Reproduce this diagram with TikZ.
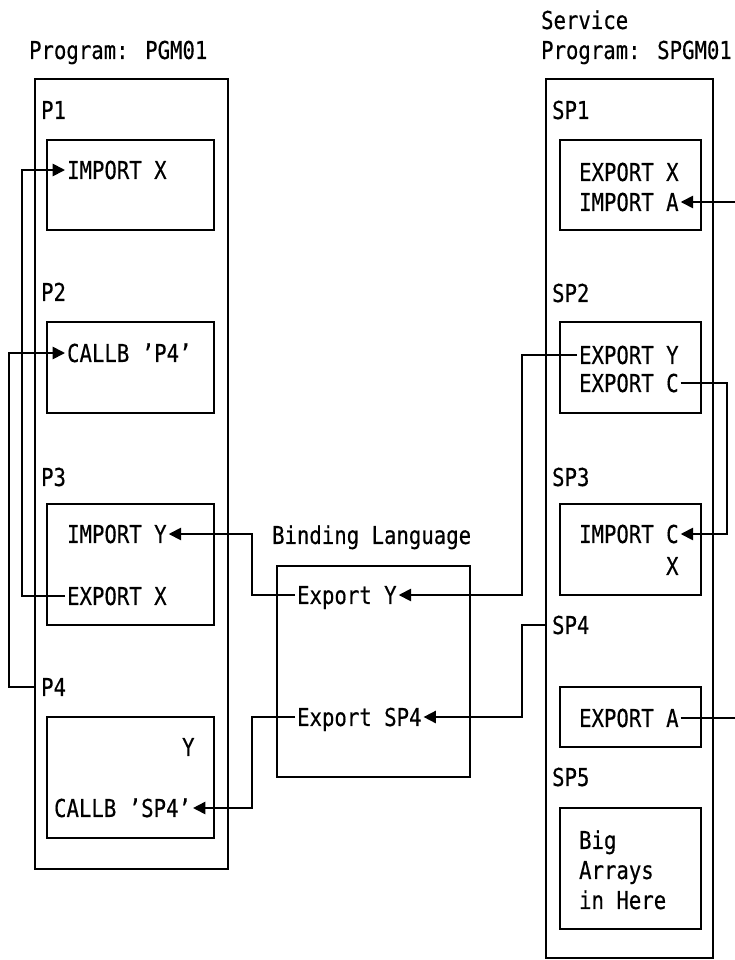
\documentclass[tikz,border=0pt]{standalone}
\usepackage{fontspec}
\usetikzlibrary{arrows.meta, fit}
\newfontfamily\diagfont[FakeStretch=0.84, FakeBold=0.4]{DejaVu Sans Mono}
\tikzset{
    txt/.style={anchor=west, inner xsep=1pt, inner ysep=0pt, text height=10.2pt, text depth=0pt,
        font=\diagfont\fontsize{14pt}{17pt}\selectfont},
    frame/.style={draw, line width=1pt, inner sep=0pt},
    conn/.style={line width=1pt, -{Triangle[length=7pt, width=7pt]}},
    wire/.style={line width=1pt}
}

\begin{document}
\begin{tikzpicture}[x=0.02cm, y=-0.02cm]
    \useasboundingbox (0,0) rectangle (734,960);

    \coordinate (lx1) at (22,0);
    \coordinate (lx2) at (9,0);
    \coordinate (mx) at (252,0);
    \coordinate (rx) at (522,0);
    \coordinate (ex) at (727,0);
    \coordinate (far) at (760,0);

    % program PGM01
    \node[txt] (pgmlbl) at (27,50) {Program: PGM01};
    \node[frame, fit={(35,79) (228,869)}] (pgm) {};

    \foreach \n/\y in {1/110, 2/292, 3/477, 4/687} {
        \node[txt] (p\n) at (39,\y) {P\n};
    }
    \foreach \n/\t/\b in {1/140/230, 2/322/413, 3/504/625, 4/717/838} {
        \node[frame, fit={(47,\t) (214,\b)}] (box\n) {};
    }

    \node[txt] (impx) at (65,170) {IMPORT X};
    \node[txt] (callp4) at (65,353) {CALLB ’P4’};
    \node[txt] (impy) at (65,534) {IMPORT Y};
    \node[txt] (pexpx) at (65,596) {EXPORT X};
    \node[txt] (ycell) at (180,747) {Y};
    \node[txt] (callsp4) at (52,808) {CALLB ’SP4’};

    % binding language
    \node[txt] (bindlbl) at (270,535) {Binding Language};
    \node[frame, fit={(277,566) (470,777)}] (bind) {};
    \node[txt] (bexpy) at (295,595) {Export Y};
    \node[txt] (bexpsp4) at (295,717) {Export SP4};

    % service program SPGM01
    \node[txt] (svclbl) at (539,20) {Service};
    \node[txt] (spgmlbl) at (539,50) {Program: SPGM01};
    \node[frame, fit={(546,79) (713,958)}] (spgm) {};

    \foreach \n/\y in {1/110, 2/293, 3/477, 4/625, 5/777} {
        \node[txt] (sp\n) at (550,\y) {SP\n};
    }
    \foreach \n/\t/\b in {1/140/230, 2/322/413, 3/504/595, 4/687/747, 5/808/929} {
        \node[frame, fit={(560,\t) (701,\b)}] (spbox\n) {};
    }

    \node[txt] (sexpx) at (577,172) {EXPORT X};
    \node[txt] (impa) at (577,202) {IMPORT A};
    \node[txt] (sexpy) at (577,355) {EXPORT Y};
    \node[txt] (expc) at (577,383) {EXPORT C};
    \node[txt] (impc) at (577,534) {IMPORT C};
    \node[txt] (sxcell) at (664,566) {X};
    \node[txt] (expa) at (577,718) {EXPORT A};
    \node[txt] (big1) at (577,840) {Big};
    \node[txt] (big2) at (577,870) {Arrays};
    \node[txt] (big3) at (577,900) {in Here};

    % connectors
    \draw[conn] (pexpx.west) -- (pexpx.west -| lx1) |- (impx.west);
    \draw[conn] (pgm.west |- p4) -- (p4 -| lx2) |- (callp4.west);
    \draw[conn] (bexpy.west) -- (bexpy.west -| mx) |- (impy.east);
    \draw[conn] (bexpsp4.west) -- (bexpsp4.west -| mx) |- (callsp4.east);
    \draw[conn] (sexpy.west) -- (sexpy.west -| rx) |- (bexpy.east);
    \draw[conn] (spgm.west |- sp4) -- (sp4 -| rx) |- (bexpsp4.east);
    \draw[conn] (expc.east) -- (expc.east -| ex) |- (impc.east);
    \draw[conn] (expa.east) -- (expa.east -| far) |- (impa.east);

\end{tikzpicture}
\end{document}
